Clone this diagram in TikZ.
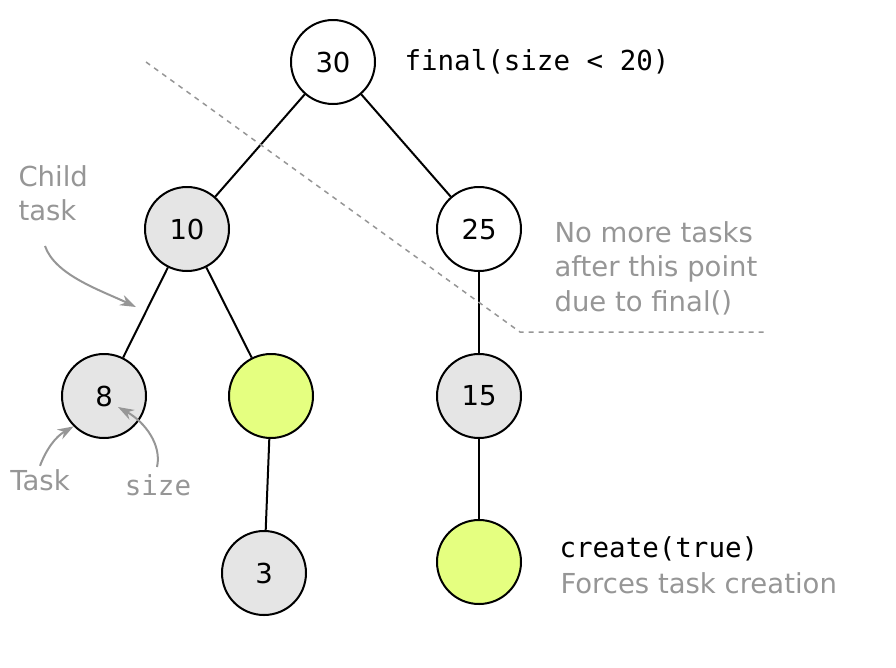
\documentclass[tikz,border=0pt]{standalone}
\usepackage{fontspec}
\setmainfont{DejaVu Sans}
\setmonofont{DejaVu Sans Mono}
\usetikzlibrary{arrows.meta}
\definecolor{notegray}{RGB}{150,150,150}
\definecolor{taskfill}{RGB}{229,229,229}
\definecolor{newfill}{RGB}{229,255,128}
\begin{document}
\begin{tikzpicture}[x=1pt,y=-1pt]
            \useasboundingbox (0,0) rectangle (896,667);
            \tikzstyle{tache}=[circle,draw,line width=2pt,minimum size=84pt,inner sep=0pt,font=\fontsize{27.5}{30}\selectfont]
            \tikzstyle{nouvelle}=[tache,fill=newfill]
            \tikzstyle{note}=[text=notegray,align=left,anchor=west,font=\fontsize{27.5}{34.5}\selectfont]
            \tikzset{edge/.style = {line width=2pt}}
            \tikzset{pointer/.style = {notegray,line width=2pt,-{Stealth[length=16pt,width=11pt]}}}
            \node[tache] (30) at (333,62) {30};
            \node[tache,fill=taskfill] (10) at (187,229) {10};
            \node[tache] (25) at (479,229) {25};
            \node[tache,fill=taskfill] (8) at (104,396) {8};
            \node[nouvelle] (y1) at (271,396) {};
            \node[tache,fill=taskfill] (15) at (479,396) {15};
            \node[tache,fill=taskfill] (3) at (264,573) {3};
            \node[nouvelle] (y2) at (479,562) {};
            \draw[edge] (30) -- (10);
            \draw[edge] (30) -- (25);
            \draw[edge] (10) -- (8);
            \draw[edge] (10) -- (y1);
            \draw[edge] (y1) -- (3);
            \draw[edge] (25) -- (15);
            \draw[edge] (15) -- (y2);
            % limite de final()
            \coordinate (l1) at (146,62);
            \coordinate (l2) at (520,332);
            \coordinate (l3) at (766,332);
            \draw[notegray,line width=1.5pt,dash pattern=on 5pt off 5pt] (l1) -- (l2) -- (l3);
            % textes
            \node[anchor=west,font=\ttfamily\fontsize{27.5}{30}\selectfont] (fin) at (401,62) {final(size < 20)};
            \node[note] (pt) at (551,268) {No more tasks\\after this point\\due to final()};
            \node[note] (ct) at (15,193) {Child\\task};
            \node[note,anchor=center] (tk) at (40,480) {Task};
            \node[note,anchor=center,font=\ttfamily\fontsize{27.5}{30}\selectfont] (sz) at (158,485) {size};
            \node[anchor=west,font=\ttfamily\fontsize{27.5}{30}\selectfont] (cr) at (556,549) {create(true)};
            \node[note] (fc) at (557,583) {Forces task creation};
            % fleches
            \coordinate (ctend) at (136,307);
            \draw[pointer] (45,246) .. controls (55,275) and (100,290) .. (ctend);
            \draw[pointer] (tk.north) .. controls (46,450) and (55,437) .. (8.-135);
            \coordinate (szend) at (118,407);
            \draw[pointer] (157,467) .. controls (162,445) and (145,422) .. (szend);
        \end{tikzpicture}
\end{document}
